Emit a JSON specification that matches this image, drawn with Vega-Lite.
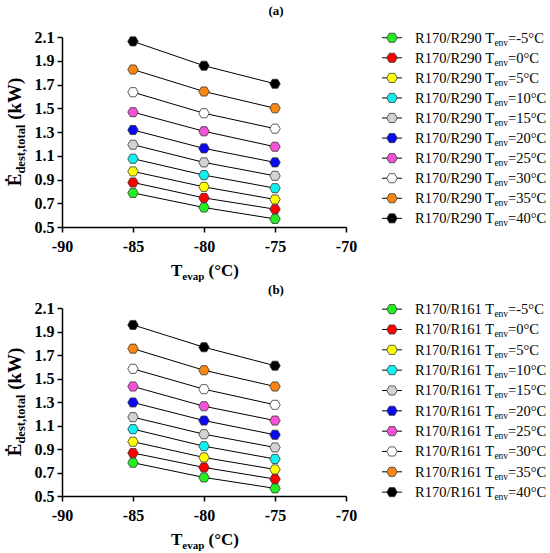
{
  "$schema": "https://vega.github.io/schema/vega-lite/v6.json",
  "background": "#ffffff",
  "padding": {"left": 5, "top": 5, "right": 0, "bottom": 0},
  "config": {
    "font": "Liberation Serif",
    "view": {"stroke": null},
    "axis": {
      "grid": false,
      "title": null,
      "domainColor": "#000000",
      "domainWidth": 1.5,
      "tickColor": "#000000",
      "tickWidth": 1.5,
      "tickSize": 5,
      "labelColor": "#000000",
      "labelFont": "Liberation Serif",
      "labelFontWeight": "bold",
      "labelFontSize": 16,
      "labelFlush": false,
      "labelOverlap": false
    }
  },
  "datasets": {
    "r290": [
      {"env": "-5", "tevap": -85, "edest": 0.787}, {"env": "-5", "tevap": -80, "edest": 0.664}, {"env": "-5", "tevap": -75, "edest": 0.568},
      {"env": "0", "tevap": -85, "edest": 0.875}, {"env": "0", "tevap": -80, "edest": 0.745}, {"env": "0", "tevap": -75, "edest": 0.650},
      {"env": "5", "tevap": -85, "edest": 0.968}, {"env": "5", "tevap": -80, "edest": 0.838}, {"env": "5", "tevap": -75, "edest": 0.732},
      {"env": "10", "tevap": -85, "edest": 1.075}, {"env": "10", "tevap": -80, "edest": 0.937}, {"env": "10", "tevap": -75, "edest": 0.827},
      {"env": "15", "tevap": -85, "edest": 1.193}, {"env": "15", "tevap": -80, "edest": 1.044}, {"env": "15", "tevap": -75, "edest": 0.931},
      {"env": "20", "tevap": -85, "edest": 1.317}, {"env": "20", "tevap": -80, "edest": 1.162}, {"env": "20", "tevap": -75, "edest": 1.044},
      {"env": "25", "tevap": -85, "edest": 1.467}, {"env": "25", "tevap": -80, "edest": 1.306}, {"env": "25", "tevap": -75, "edest": 1.176},
      {"env": "30", "tevap": -85, "edest": 1.635}, {"env": "30", "tevap": -80, "edest": 1.458}, {"env": "30", "tevap": -75, "edest": 1.328},
      {"env": "35", "tevap": -85, "edest": 1.826}, {"env": "35", "tevap": -80, "edest": 1.641}, {"env": "35", "tevap": -75, "edest": 1.500},
      {"env": "40", "tevap": -85, "edest": 2.063}, {"env": "40", "tevap": -80, "edest": 1.858}, {"env": "40", "tevap": -75, "edest": 1.706}
    ],
    "r161": [
      {"env": "-5", "tevap": -85, "edest": 0.783}, {"env": "-5", "tevap": -80, "edest": 0.658}, {"env": "-5", "tevap": -75, "edest": 0.565},
      {"env": "0", "tevap": -85, "edest": 0.866}, {"env": "0", "tevap": -80, "edest": 0.743}, {"env": "0", "tevap": -75, "edest": 0.644},
      {"env": "5", "tevap": -85, "edest": 0.962}, {"env": "5", "tevap": -80, "edest": 0.828}, {"env": "5", "tevap": -75, "edest": 0.726},
      {"env": "10", "tevap": -85, "edest": 1.069}, {"env": "10", "tevap": -80, "edest": 0.924}, {"env": "10", "tevap": -75, "edest": 0.815},
      {"env": "15", "tevap": -85, "edest": 1.171}, {"env": "15", "tevap": -80, "edest": 1.026}, {"env": "15", "tevap": -75, "edest": 0.913},
      {"env": "20", "tevap": -85, "edest": 1.296}, {"env": "20", "tevap": -80, "edest": 1.142}, {"env": "20", "tevap": -75, "edest": 1.021},
      {"env": "25", "tevap": -85, "edest": 1.432}, {"env": "25", "tevap": -80, "edest": 1.264}, {"env": "25", "tevap": -75, "edest": 1.142},
      {"env": "30", "tevap": -85, "edest": 1.582}, {"env": "30", "tevap": -80, "edest": 1.409}, {"env": "30", "tevap": -75, "edest": 1.276},
      {"env": "35", "tevap": -85, "edest": 1.754}, {"env": "35", "tevap": -80, "edest": 1.570}, {"env": "35", "tevap": -75, "edest": 1.432},
      {"env": "40", "tevap": -85, "edest": 1.956}, {"env": "40", "tevap": -80, "edest": 1.766}, {"env": "40", "tevap": -75, "edest": 1.609}
    ],
    "legend": [
      {"env": "-5", "tail": "=-5°C"},
      {"env": "0", "tail": "=0°C"},
      {"env": "5", "tail": "=5°C"},
      {"env": "10", "tail": "=10°C"},
      {"env": "15", "tail": "=15°C"},
      {"env": "20", "tail": "=20°C"},
      {"env": "25", "tail": "=25°C"},
      {"env": "30", "tail": "=30°C"},
      {"env": "35", "tail": "=35°C"},
      {"env": "40", "tail": "=40°C"}
    ]
  },
  "vconcat": [
    {
      "bounds": "flush",
      "spacing": 36,
      "hconcat": [
        {
          "width": 284,
          "height": 190,
          "title": {"text": "(a)", "font": "Liberation Serif", "fontSize": 13, "fontWeight": "bold", "color": "#000000", "anchor": "middle", "dx": 72, "offset": 11},
          "layer": [
            {
              "data": {"name": "r290"},
              "mark": {"type": "line", "color": "#000000", "strokeWidth": 1},
              "encoding": {
                "x": {"field": "tevap", "type": "quantitative", "scale": {"domain": [-90, -70], "nice": false}, "axis": {"values": [-90, -85, -80, -75, -70], "tickCount": 5, "labelPadding": 6, "labelExpr": "toString(datum.value)"}},
                "y": {"field": "edest", "type": "quantitative", "scale": {"domain": [0.5, 2.1], "nice": false}, "axis": {"values": [0.5, 0.7, 0.9, 1.1, 1.3, 1.5, 1.7, 1.9, 2.1], "tickCount": 9, "format": ".1f", "labelPadding": 3}},
                "detail": {"field": "env"}
              }
            },
            {
              "data": {"name": "r290"},
              "mark": {"type": "point", "shape": "M-1,0L-0.5,-0.866L0.5,-0.866L1,0L0.5,0.866L-0.5,0.866Z", "size": 110, "filled": true, "opacity": 1, "stroke": "#333333", "strokeWidth": 0.8},
              "encoding": {
                "x": {"field": "tevap", "type": "quantitative"},
                "y": {"field": "edest", "type": "quantitative"},
                "fill": {"field": "env", "type": "nominal", "legend": null, "scale": {"domain": ["-5", "0", "5", "10", "15", "20", "25", "30", "35", "40"], "range": ["#22ee22", "#ff0000", "#ffff00", "#11f0f0", "#d3d3d3", "#0a0aee", "#f552d8", "#ffffff", "#fa8511", "#000000"]}}
              }
            },
            {
              "data": {"values": [{}]},
              "mark": {"type": "text", "text": "Ė", "fontSize": 19, "fontWeight": "bold", "angle": 270, "align": "left", "baseline": "alphabetic", "dx": -54.3, "dy": -41, "color": "#000000"},
              "encoding": {"x": {"datum": -90}, "y": {"datum": 1.3}}
            },
            {
              "data": {"values": [{}]},
              "mark": {"type": "text", "text": "dest,total", "fontSize": 12.5, "fontWeight": "bold", "angle": 270, "align": "left", "baseline": "alphabetic", "dx": -41.6, "dy": -37, "color": "#000000"},
              "encoding": {"x": {"datum": -90}, "y": {"datum": 1.3}}
            },
            {
              "data": {"values": [{}]},
              "mark": {"type": "text", "text": "(kW)", "fontSize": 19, "fontWeight": "bold", "angle": 270, "align": "left", "baseline": "alphabetic", "dx": 12.2, "dy": -41, "color": "#000000"},
              "encoding": {"x": {"datum": -90}, "y": {"datum": 1.3}}
            },
            {
              "data": {"values": [{}]},
              "mark": {"type": "text", "text": "T", "fontSize": 17, "fontWeight": "bold", "align": "left", "baseline": "alphabetic", "dx": -33, "dy": 49, "color": "#000000"},
              "encoding": {"x": {"datum": -80}, "y": {"datum": 0.5}}
            },
            {
              "data": {"values": [{}]},
              "mark": {"type": "text", "text": "evap", "fontSize": 11, "fontWeight": "bold", "align": "left", "baseline": "alphabetic", "dx": -21.7, "dy": 53, "color": "#000000"},
              "encoding": {"x": {"datum": -80}, "y": {"datum": 0.5}}
            },
            {
              "data": {"values": [{}]},
              "mark": {"type": "text", "text": "(°C)", "fontSize": 17, "fontWeight": "bold", "align": "left", "baseline": "alphabetic", "dx": 4.6, "dy": 49, "color": "#000000"},
              "encoding": {"x": {"datum": -80}, "y": {"datum": 0.5}}
            }
          ]
        },
        {
          "width": 20,
          "height": 190,
          "data": {"name": "legend"},
          "encoding": {
            "y": {"field": "env", "type": "ordinal", "axis": null, "scale": {"type": "point", "domain": ["-5", "0", "5", "10", "15", "20", "25", "30", "35", "40"], "range": [-9.3, 191.4]}}
          },
          "layer": [
            {"mark": {"type": "rule", "color": "#000000", "strokeWidth": 1}},
            {
              "mark": {"type": "point", "shape": "M-1,0L-0.5,-0.866L0.5,-0.866L1,0L0.5,0.866L-0.5,0.866Z", "size": 110, "filled": true, "opacity": 1, "stroke": "#333333", "strokeWidth": 0.8},
              "encoding": {"fill": {"field": "env", "type": "nominal", "legend": null}}
            },
            {"mark": {"type": "text", "text": "R170/R290 T", "fontSize": 14.5, "align": "left", "baseline": "alphabetic", "dx": 23, "dy": 5, "color": "#000000"}},
            {"mark": {"type": "text", "text": "env", "fontSize": 9.5, "align": "left", "baseline": "alphabetic", "dx": 102.4, "dy": 8, "color": "#000000"}},
            {"mark": {"type": "text", "fontSize": 14.5, "align": "left", "baseline": "alphabetic", "dx": 116.1, "dy": 5, "color": "#000000"}, "encoding": {"text": {"field": "tail"}}}
          ]
        }
      ]
    },
    {
      "bounds": "flush",
      "spacing": 36,
      "hconcat": [
        {
          "width": 284,
          "height": 188,
          "title": {"text": "(b)", "font": "Liberation Serif", "fontSize": 13, "fontWeight": "bold", "color": "#000000", "anchor": "middle", "dx": 72, "offset": 3},
          "layer": [
            {
              "data": {"name": "r161"},
              "mark": {"type": "line", "color": "#000000", "strokeWidth": 1},
              "encoding": {
                "x": {"field": "tevap", "type": "quantitative", "scale": {"domain": [-90, -70], "nice": false}, "axis": {"values": [-90, -85, -80, -75, -70], "tickCount": 5, "labelPadding": 6, "labelExpr": "toString(datum.value)"}},
                "y": {"field": "edest", "type": "quantitative", "scale": {"domain": [0.5, 2.1], "nice": false}, "axis": {"values": [0.5, 0.7, 0.9, 1.1, 1.3, 1.5, 1.7, 1.9, 2.1], "tickCount": 9, "format": ".1f", "labelPadding": 3}},
                "detail": {"field": "env"}
              }
            },
            {
              "data": {"name": "r161"},
              "mark": {"type": "point", "shape": "M-1,0L-0.5,-0.866L0.5,-0.866L1,0L0.5,0.866L-0.5,0.866Z", "size": 110, "filled": true, "opacity": 1, "stroke": "#333333", "strokeWidth": 0.8},
              "encoding": {
                "x": {"field": "tevap", "type": "quantitative"},
                "y": {"field": "edest", "type": "quantitative"},
                "fill": {"field": "env", "type": "nominal", "legend": null}
              }
            },
            {
              "data": {"values": [{}]},
              "mark": {"type": "text", "text": "Ė", "fontSize": 19, "fontWeight": "bold", "angle": 270, "align": "left", "baseline": "alphabetic", "dx": -54.3, "dy": -41, "color": "#000000"},
              "encoding": {"x": {"datum": -90}, "y": {"datum": 1.3}}
            },
            {
              "data": {"values": [{}]},
              "mark": {"type": "text", "text": "dest,total", "fontSize": 12.5, "fontWeight": "bold", "angle": 270, "align": "left", "baseline": "alphabetic", "dx": -41.6, "dy": -37, "color": "#000000"},
              "encoding": {"x": {"datum": -90}, "y": {"datum": 1.3}}
            },
            {
              "data": {"values": [{}]},
              "mark": {"type": "text", "text": "(kW)", "fontSize": 19, "fontWeight": "bold", "angle": 270, "align": "left", "baseline": "alphabetic", "dx": 12.2, "dy": -41, "color": "#000000"},
              "encoding": {"x": {"datum": -90}, "y": {"datum": 1.3}}
            },
            {
              "data": {"values": [{}]},
              "mark": {"type": "text", "text": "T", "fontSize": 17, "fontWeight": "bold", "align": "left", "baseline": "alphabetic", "dx": -33, "dy": 49, "color": "#000000"},
              "encoding": {"x": {"datum": -80}, "y": {"datum": 0.5}}
            },
            {
              "data": {"values": [{}]},
              "mark": {"type": "text", "text": "evap", "fontSize": 11, "fontWeight": "bold", "align": "left", "baseline": "alphabetic", "dx": -21.7, "dy": 53, "color": "#000000"},
              "encoding": {"x": {"datum": -80}, "y": {"datum": 0.5}}
            },
            {
              "data": {"values": [{}]},
              "mark": {"type": "text", "text": "(°C)", "fontSize": 17, "fontWeight": "bold", "align": "left", "baseline": "alphabetic", "dx": 4.6, "dy": 49, "color": "#000000"},
              "encoding": {"x": {"datum": -80}, "y": {"datum": 0.5}}
            }
          ]
        },
        {
          "width": 20,
          "height": 188,
          "data": {"name": "legend"},
          "encoding": {
            "y": {"field": "env", "type": "ordinal", "axis": null, "scale": {"type": "point", "domain": ["-5", "0", "5", "10", "15", "20", "25", "30", "35", "40"], "range": [-9, 194.3]}}
          },
          "layer": [
            {"mark": {"type": "rule", "color": "#000000", "strokeWidth": 1}},
            {
              "mark": {"type": "point", "shape": "M-1,0L-0.5,-0.866L0.5,-0.866L1,0L0.5,0.866L-0.5,0.866Z", "size": 110, "filled": true, "opacity": 1, "stroke": "#333333", "strokeWidth": 0.8},
              "encoding": {"fill": {"field": "env", "type": "nominal", "legend": null}}
            },
            {"mark": {"type": "text", "text": "R170/R161 T", "fontSize": 14.5, "align": "left", "baseline": "alphabetic", "dx": 23, "dy": 5, "color": "#000000"}},
            {"mark": {"type": "text", "text": "env", "fontSize": 9.5, "align": "left", "baseline": "alphabetic", "dx": 102.4, "dy": 8, "color": "#000000"}},
            {"mark": {"type": "text", "fontSize": 14.5, "align": "left", "baseline": "alphabetic", "dx": 116.1, "dy": 5, "color": "#000000"}, "encoding": {"text": {"field": "tail"}}}
          ]
        }
      ]
    }
  ],
  "spacing": 2
}
